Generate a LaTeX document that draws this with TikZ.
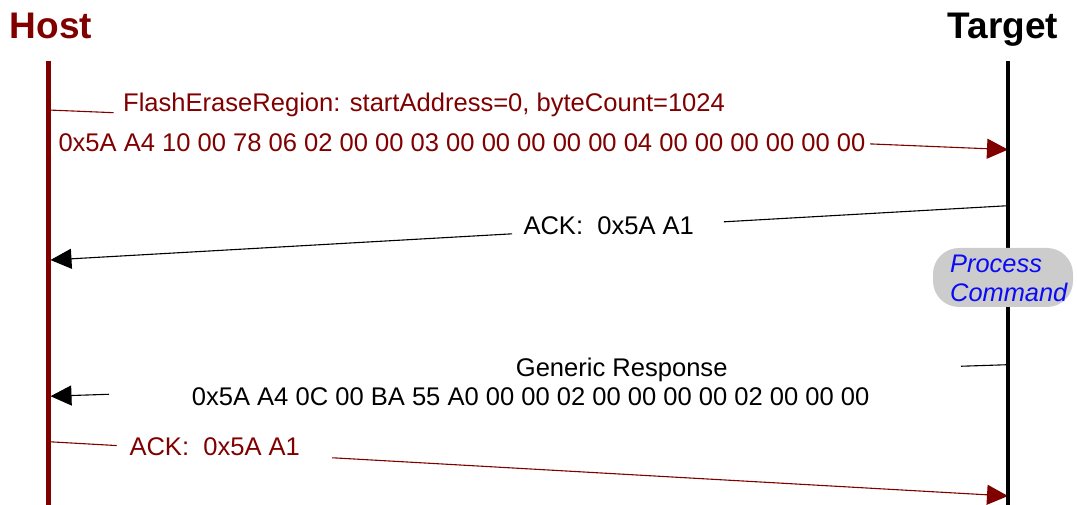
\documentclass[tikz,border=0pt]{standalone}
\usepackage{fontspec}
\setmainfont{Liberation Sans}
\usetikzlibrary{arrows.meta,calc}
\definecolor{hostred}{RGB}{128,0,0}
\definecolor{procgray}{RGB}{204,204,204}
\definecolor{procblue}{RGB}{10,10,245}
\tikzset{
  lifeline/.style={line width=4.6pt},
  msg/.style={line width=1.1pt},
  tipped/.style={-{Triangle[length=21pt,width=20pt]}},
  lbl/.style={anchor=base west, inner sep=0pt, font=\fontsize{25.55}{29}\selectfont},
  title/.style={anchor=base, inner sep=0pt, font=\fontsize{37}{40}\selectfont\bfseries},
  procbox/.style={fill=procgray, rounded corners=26pt, minimum width=140pt,
    minimum height=59pt, inner sep=0pt},
  proclbl/.style={lbl, text=procblue, font=\fontsize{25.4}{29}\selectfont\itshape},
}
\begin{document}
\begin{tikzpicture}[x=1pt,y=-1pt]
\useasboundingbox (0,0) rectangle (1077,505);

% participants
\node[title, text=hostred] (hostTitle) at (51,38.3) {Host};
\node[title] (targetTitle) at (1003,38.3) {Target};

\coordinate (hostTop) at (48.3,61);
\coordinate (hostBot) at (48.3,505);
\coordinate (targetTop) at (1008,61);
\coordinate (targetBot) at (1008,505);

% message end points on the lifelines
\coordinate (h1) at (48.3,110);
\coordinate (t1) at (1008,149.6);
\coordinate (t2) at (1008,205.7);
\coordinate (h2) at (50.5,260);
\coordinate (t3) at (1008,364.7);
\coordinate (h3) at (50.5,396.2);
\coordinate (h4) at (48.3,441.7);
\coordinate (t4) at (1008,496);

% message labels
\node[lbl, text=hostred] (m1name) at (123,111.7) {FlashEraseRegion: startAddress=0, byteCount=1024};
\node[lbl, text=hostred] (m1bytes) at (58.3,151.7) {0x5A A4 10 00 78 06 02 00 00 03 00 00 00 00 00 04 00 00 00 00 00 00};
\node[lbl] (m2lbl) at (523.3,234.3) {ACK:\ \ 0x5A A1};
\node[lbl] (m3name) at (515.7,376.7) {Generic Response};
\node[lbl] (m3bytes) at (191.7,405) {0x5A A4 0C 00 BA 55 A0 00 00 02 00 00 00 00 02 00 00 00};
\node[lbl, text=hostred] (m4lbl) at (129.3,455) {ACK:\ \ 0x5A A1};

% connectors, split around their labels
\draw[msg, hostred] (h1) -- ($(h1)!0.0681!(t1)$);
\draw[msg, hostred, tipped] ($(h1)!0.8562!(t1)$) -- (t1);

\draw[msg] (t2) -- ($(t2)!0.2967!(h2)$);
\draw[msg, tipped] ($(t2)!0.5179!(h2)$) -- (h2);

\draw[msg] (t3) -- ($(t3)!0.0491!(h3)$);
\draw[msg, tipped] ($(t3)!0.9389!(h3)$) -- (h3);

\draw[msg, hostred] (h4) -- ($(h4)!0.0713!(t4)$);
\draw[msg, hostred, tipped] ($(h4)!0.2959!(t4)$) -- (t4);

% lifelines
\draw[lifeline, hostred] (hostTop) -- (hostBot);
\draw[lifeline] (targetTop) -- (targetBot);

% processing step on the target
\node[procbox] (proc) at (1003,277.5) {};
\node[proclbl] (procA) at (950,272.7) {Process};
\node[proclbl] (procB) at (950,301.7) {Command};
\end{tikzpicture}
\end{document}
